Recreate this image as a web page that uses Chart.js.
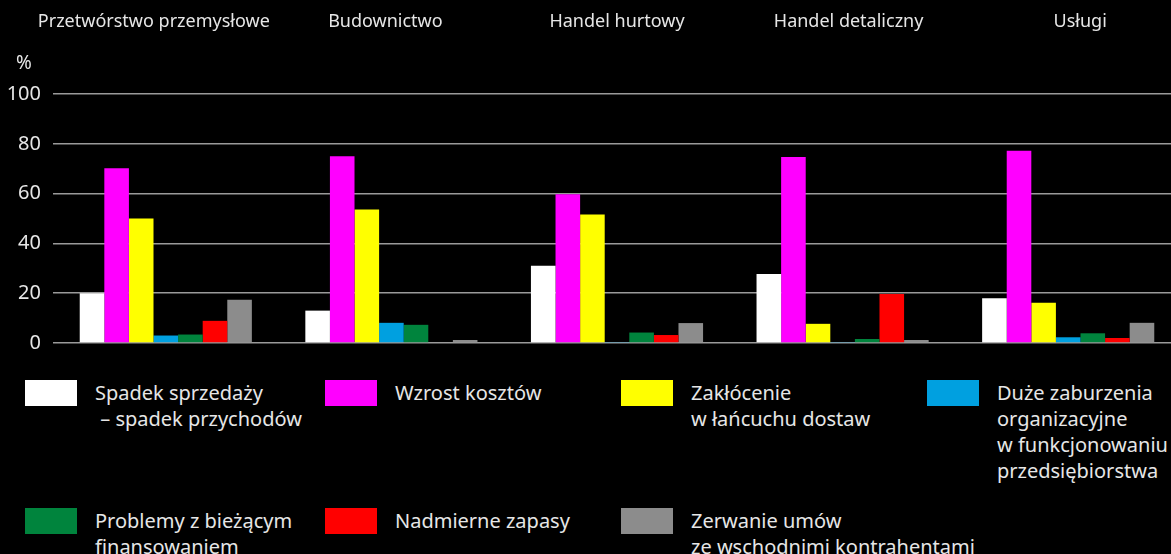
<!DOCTYPE html>
<html>
<head>
<meta charset="utf-8">
<script src="https://cdn.jsdelivr.net/npm/chart.js@4"></script>
<style>
  html, body { margin: 0; padding: 0; background: #000; overflow: hidden; }
  body { width: 1171px; height: 554px; position: relative; font-family: "Noto Sans", sans-serif; }
  #wrap { position: absolute; left: 0; top: 0; width: 1190px; height: 367px; }
  #unit { position: absolute; left: 16px; top: 49px; color: #e6e6e6; font-size: 19px; }
  #legend { position: absolute; left: 25px; top: 380px; width: 1250px; display: grid;
            grid-template-columns: 300px 296px 306px 320px; row-gap: 24px; }
  .item { display: flex; align-items: flex-start; }
  .box { width: 52px; height: 26px; flex: none; margin-right: 18px; }
  .txt { color: #e6e6e6; font-size: 20px; line-height: 26px; white-space: pre; }
</style>
</head>
<body>
<div id="wrap"><canvas id="chart"></canvas></div>
<div id="unit">%</div>
<div id="legend"></div>
<script>
const categories = ["Przetwórstwo przemysłowe", "Budownictwo", "Handel hurtowy", "Handel detaliczny", "Usługi"];
const seriesNames = [
  "Spadek sprzedaży\n\u00a0– spadek przychodów",
  "Wzrost kosztów",
  "Zakłócenie\nw łańcuchu dostaw",
  "Duże zaburzenia\norganizacyjne\nw funkcjonowaniu\nprzedsiębiorstwa",
  "Problemy z bieżącym\nfinansowaniem",
  "Nadmierne zapasy",
  "Zerwanie umów\nze wschodnimi kontrahentami"
];
const colors = ["#ffffff", "#ff00ff", "#ffff00", "#00a0e0", "#00843d", "#ff0000", "#8c8c8c"];

const spadekSprzedazy = [20, 13, 31, 27.7, 18];
const wzrostKosztow = [70.2, 75, 59.7, 74.7, 77.2];
const zaklocenie = [50, 53.6, 51.6, 7.7, 16.2];
const zaburzenia = [3, 8.1, 0.4, 0.4, 2.3];
const finansowanie = [3.4, 7.3, 4.2, 1.6, 3.9];
const zapasy = [8.9, 0, 3.2, 19.7, 2];
const zerwanieUmow = [17.4, 1.2, 8, 1.2, 8.1];
const yTicks = [0, 20, 40, 60, 80, 100];

const values = [spadekSprzedazy, wzrostKosztow, zaklocenie, zaburzenia, finansowanie, zapasy, zerwanieUmow];

const datasets = values.map((v, i) => ({
  label: seriesNames[i],
  data: v,
  backgroundColor: colors[i],
  borderWidth: 0,
  categoryPercentage: 0.763,
  barPercentage: 1.0,
}));

// category names sit in a row above the plot
const topLabels = {
  id: "topLabels",
  afterDraw(chart) {
    const { ctx, scales } = chart;
    ctx.save();
    ctx.fillStyle = "#e6e6e6";
    ctx.font = '18px "Noto Sans"';
    ctx.textAlign = "center";
    ctx.textBaseline = "middle";
    categories.forEach((c, i) => {
      const x = scales.x.getPixelForValue(i) + (i - 2) * 6;
      ctx.fillText(c, x, 22);
    });
    ctx.restore();
  },
};

const htmlLegend = {
  id: "htmlLegend",
  afterUpdate(chart) {
    const box = document.getElementById("legend");
    box.innerHTML = "";
    const items = chart.options.plugins.legend.labels.generateLabels(chart);
    items.forEach((item) => {
      const el = document.createElement("div");
      el.className = "item";
      el.innerHTML = `<span class="box" style="background:${item.fillStyle}"></span><span class="txt"></span>`;
      el.querySelector(".txt").textContent = item.text;
      box.appendChild(el);
    });
  },
};

const config = {
  type: "bar",
  data: { labels: categories, datasets },
  options: {
    responsive: true,
    maintainAspectRatio: false,
    animation: false,
    layout: { padding: { left: 6, right: 9, top: 94, bottom: 0 } },
    plugins: { legend: { display: false }, tooltip: { enabled: false } },
    scales: {
      x: {
        grid: { display: false, drawTicks: false },
        border: { display: false },
        ticks: { display: false },
      },
      y: {
        min: 0,
        max: 100,
        afterBuildTicks: (axis) => { axis.ticks = yTicks.map((v) => ({ value: v })); },
        afterFit: (axis) => { axis.width = 47; },
        grid: { color: "#9a9a9a", lineWidth: 1.5, drawTicks: false },
        border: { display: false },
        ticks: { color: "#e6e6e6", font: { family: "Noto Sans", size: 20 }, padding: 12 },
      },
    },
  },
  plugins: [topLabels, htmlLegend],
};

const myChart = document.getElementById("chart");
new Chart(myChart, config);
</script>
</body>
</html>
